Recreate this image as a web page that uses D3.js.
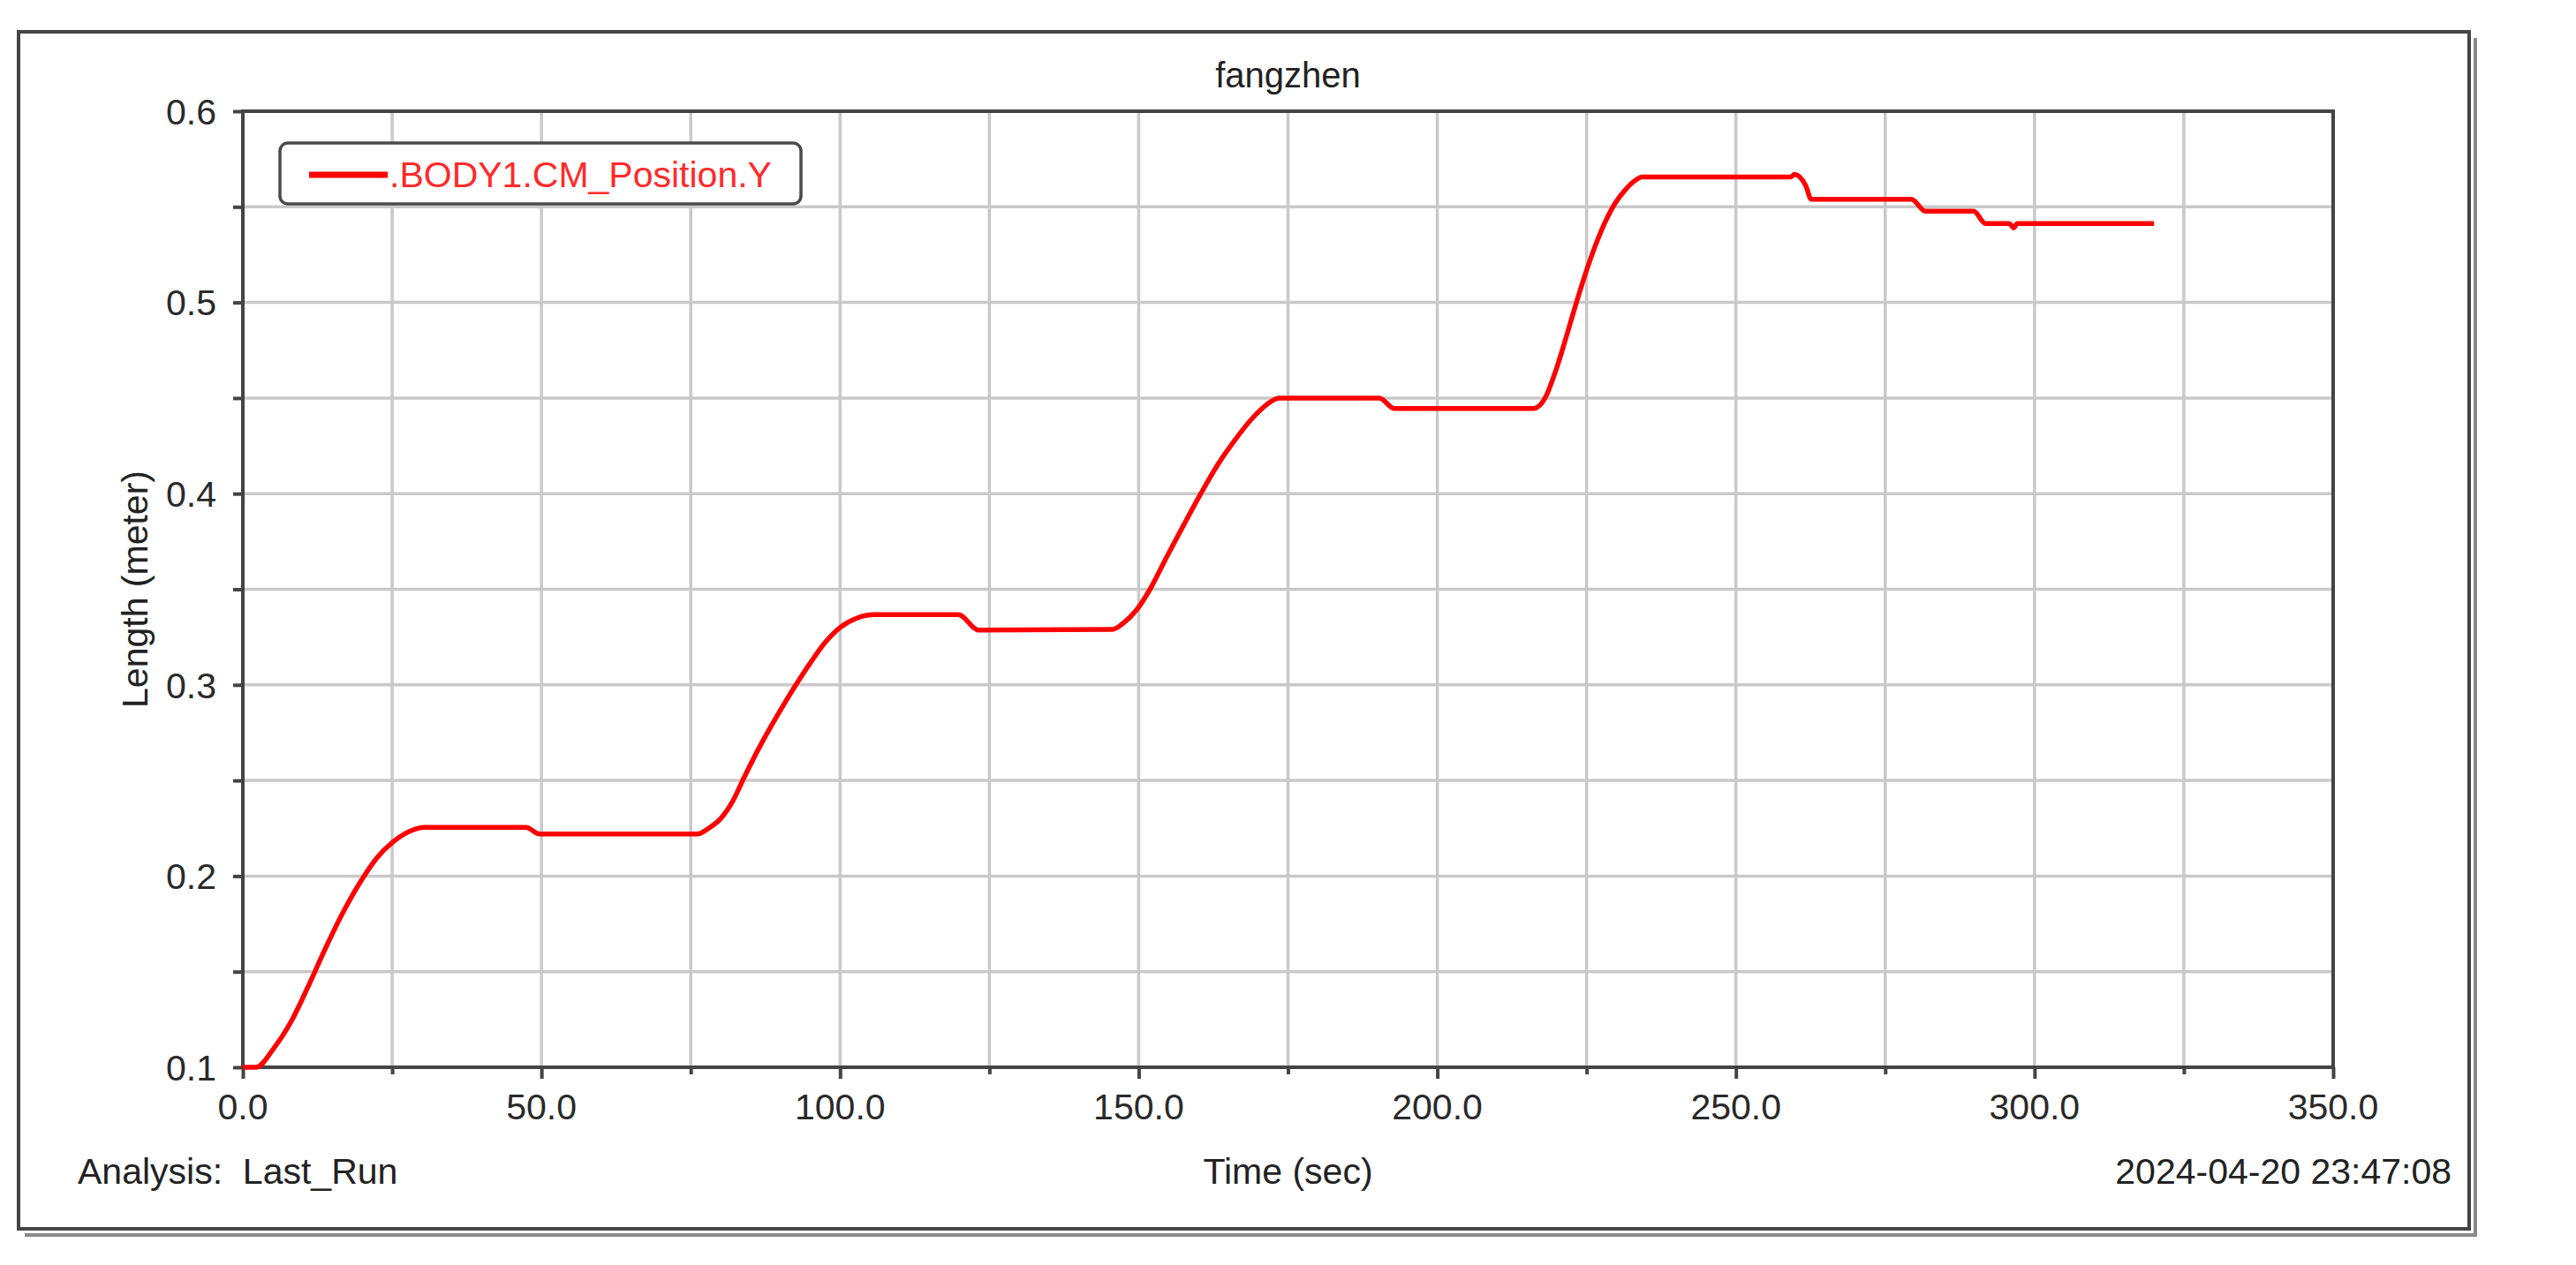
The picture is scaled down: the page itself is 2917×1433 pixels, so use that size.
<!DOCTYPE html>
<html>
<head>
<meta charset="utf-8">
<script src="https://cdn.jsdelivr.net/npm/d3@7"></script>
<style>
  body { margin: 0; background: #fff; }
  text { font-family: "Liberation Sans", Arial, sans-serif; white-space: pre; }
</style>
</head>
<body>
<div id="chart"></div>
<script>
// data
var timeSec = [0, 2.2, 5.2, 8.1, 10.9, 13.8, 16.6, 19.5, 22.3, 25.2, 28, 30.3, 47.4, 49.7,
  76.1, 78, 80, 82, 84, 86.6, 89.5, 92.3, 95.2, 97.4, 100, 102.8, 105.7, 119.8, 123.2,
  145.6, 147.3, 149.6, 151.9, 154.7, 157.6, 160.4, 163.2, 166.1, 168.9, 171.2, 173.5, 190.3, 192.8,
  216.1, 218.1, 219.8, 221.5, 223.1, 224.8, 226.5, 228.1, 229.8, 231.5, 233.2, 234.3,
  259.2, 259.8, 261.7, 262.6, 279.4, 281.7, 289.8, 291.8, 295.8, 296.5, 297.1, 320];
var lengthM = [0.1, 0.1, 0.110, 0.124, 0.142, 0.162, 0.180, 0.196, 0.209, 0.218, 0.2235, 0.2255, 0.2255, 0.222,
  0.222, 0.225, 0.230, 0.239, 0.252, 0.268, 0.284, 0.2985, 0.3123, 0.3218, 0.330, 0.3349, 0.3367, 0.3367, 0.3287,
  0.329, 0.332, 0.339, 0.350, 0.367, 0.384, 0.400, 0.415, 0.428, 0.439, 0.446, 0.450, 0.450, 0.4445,
  0.4445, 0.4503, 0.464, 0.481, 0.498, 0.515, 0.530, 0.542, 0.552, 0.559, 0.564, 0.5656,
  0.5656, 0.567, 0.561, 0.554, 0.554, 0.5477, 0.5477, 0.5412, 0.5412, 0.539, 0.5412, 0.5412];

var xTicks = [0, 50, 100, 150, 200, 250, 300, 350];
var xGrid = [25, 50, 75, 100, 125, 150, 175, 200, 225, 250, 275, 300, 325];
var yTicks = [0.1, 0.2, 0.3, 0.4, 0.5, 0.6];
var yGrid = [0.15, 0.2, 0.25, 0.3, 0.35, 0.4, 0.45, 0.5, 0.55];

var chartTitle = "fangzhen";
var seriesName = ".BODY1.CM_Position.Y";
var xTitle = "Time (sec)";
var yTitle = "Length (meter)";
var analysisText = "Analysis:  Last_Run";
var dateText = "2024-04-20 23:47:08";

var svgWidth = 2917;
var svgHeight = 1433;

var margin = { top: 126, right: 275, bottom: 224, left: 275 };
var width = svgWidth - margin.left - margin.right;
var height = svgHeight - margin.top - margin.bottom;

var svg = d3.select("#chart")
  .append("svg")
  .attr("width", svgWidth)
  .attr("height", svgHeight);

// outer frame with shadow on right/bottom
svg.append("path")
  .attr("d", "M28,1399 L2803,1399 L2803,43")
  .attr("fill", "none")
  .attr("stroke", "#8a8a8a")
  .attr("stroke-width", 4);
svg.append("rect")
  .attr("x", 21).attr("y", 36)
  .attr("width", 2775).attr("height", 1356)
  .attr("fill", "#fff")
  .attr("stroke", "#444")
  .attr("stroke-width", 4);

var chartGroup = svg.append("g")
  .attr("transform", `translate(${margin.left}, ${margin.top})`);

var xScale = d3.scaleLinear().domain([0, 350]).range([0, width]);
var yScale = d3.scaleLinear().domain([0.1, 0.6]).range([height, 0]);

// grid
chartGroup.append("g")
  .selectAll("line")
  .data(xGrid)
  .enter()
  .append("line")
  .attr("x1", d => xScale(d)).attr("x2", d => xScale(d))
  .attr("y1", 0).attr("y2", height)
  .attr("stroke", "#c9c9c9")
  .attr("stroke-width", 3.5);

chartGroup.append("g")
  .selectAll("line")
  .data(yGrid)
  .enter()
  .append("line")
  .attr("x1", 0).attr("x2", width)
  .attr("y1", d => yScale(d)).attr("y2", d => yScale(d))
  .attr("stroke", "#c9c9c9")
  .attr("stroke-width", 3.5);

// axes
var bottomAxis = d3.axisBottom(xScale)
  .tickValues(xGrid.concat([0, 350]))
  .tickSize(0)
  .tickFormat("");
var xAxis = chartGroup.append("g")
  .attr("transform", `translate(0, ${height})`)
  .call(bottomAxis);
xAxis.select(".domain").remove();
xAxis.selectAll(".tick line")
  .attr("y2", d => (d % 50 === 0 ? 13 : 8))
  .attr("stroke", "#444")
  .attr("stroke-width", 4);

chartGroup.append("g")
  .selectAll("text")
  .data(xTicks)
  .enter()
  .append("text")
  .attr("x", d => xScale(d))
  .attr("y", height + 59)
  .attr("text-anchor", "middle")
  .attr("font-size", 41)
  .attr("fill", "#2a2a2a")
  .text(d => d3.format(".1f")(d));

var leftAxis = d3.axisLeft(yScale)
  .tickValues(yGrid.concat([0.1, 0.6]))
  .tickSize(11)
  .tickFormat("");
var yAxis = chartGroup.append("g").call(leftAxis);
yAxis.select(".domain").remove();
yAxis.selectAll(".tick line")
  .attr("stroke", "#444")
  .attr("stroke-width", 4);

chartGroup.append("g")
  .selectAll("text")
  .data(yTicks)
  .enter()
  .append("text")
  .attr("x", -30)
  .attr("y", d => yScale(d))
  .attr("dy", "0.36em")
  .attr("text-anchor", "end")
  .attr("font-size", 41)
  .attr("fill", "#2a2a2a")
  .text(d => d3.format(".1f")(d));

// plot border
chartGroup.append("rect")
  .attr("x", 0).attr("y", 0)
  .attr("width", width).attr("height", height)
  .attr("fill", "none")
  .attr("stroke", "#444")
  .attr("stroke-width", 4);

// the curve
var lineData = timeSec.map((t, i) => [t, lengthM[i]]);
var line = d3.line()
  .x(d => xScale(d[0]))
  .y(d => yScale(d[1]))
  .curve(d3.curveMonotoneX);

chartGroup.append("path")
  .datum(lineData)
  .attr("d", line)
  .attr("fill", "none")
  .attr("stroke", "#ff0000")
  .attr("stroke-width", 5.5)
  .attr("stroke-linejoin", "round");

// legend
var legend = chartGroup.append("g")
  .attr("transform", "translate(42, 36)");
legend.append("rect")
  .attr("x", 0).attr("y", 0)
  .attr("width", 590).attr("height", 69)
  .attr("rx", 9)
  .attr("fill", "#fff")
  .attr("stroke", "#4a4a4a")
  .attr("stroke-width", 3.5);
legend.append("line")
  .attr("x1", 33).attr("x2", 122)
  .attr("y1", 36).attr("y2", 36)
  .attr("stroke", "#ff0000")
  .attr("stroke-width", 7);
legend.append("text")
  .attr("x", 124)
  .attr("y", 50)
  .attr("font-size", 41)
  .attr("fill", "#ff2a2a")
  .text(seriesName);

// titles
svg.append("text")
  .attr("x", margin.left + width / 2)
  .attr("y", 99)
  .attr("text-anchor", "middle")
  .attr("font-size", 40)
  .attr("fill", "#222")
  .text(chartTitle);

svg.append("text")
  .attr("x", margin.left + width / 2)
  .attr("y", 1341)
  .attr("text-anchor", "middle")
  .attr("font-size", 41)
  .attr("fill", "#222")
  .text(xTitle);

svg.append("text")
  .attr("transform", `translate(167, ${margin.top + height / 2}) rotate(-90)`)
  .attr("text-anchor", "middle")
  .attr("font-size", 41)
  .attr("fill", "#222")
  .text(yTitle);

svg.append("text")
  .attr("x", 88)
  .attr("y", 1341)
  .attr("font-size", 41)
  .attr("fill", "#222")
  .text(analysisText);

svg.append("text")
  .attr("x", 2776)
  .attr("y", 1341)
  .attr("text-anchor", "end")
  .attr("font-size", 41)
  .attr("fill", "#222")
  .text(dateText);
</script>
</body>
</html>
